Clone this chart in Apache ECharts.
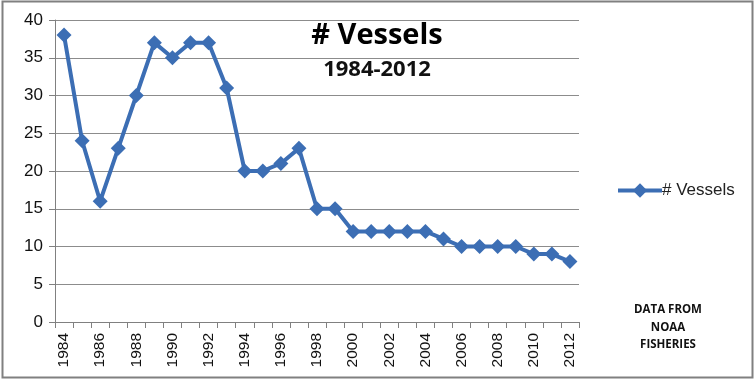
<!DOCTYPE html>
<html><head><meta charset="utf-8">
<script src="https://cdn.jsdelivr.net/npm/echarts@6/dist/echarts.min.js"></script>
<style>html,body{margin:0;padding:0;background:#fff}#c{width:756px;height:380px}</style>
</head><body><div id="c"></div>
<script>
var years = ['1984','1985','1986','1987','1988','1989','1990','1991','1992','1993','1994','1995','1996','1997','1998','1999','2000','2001','2002','2003','2004','2005','2006','2007','2008','2009','2010','2011','2012'];
var vessels = [38,24,16,23,30,37,35,37,37,31,20,20,21,23,15,15,12,12,12,12,12,11,10,10,10,10,9,9,8];
var seriesName = '# Vessels';
var titleText = '# Vessels';
var subtitleText = '1984-2012';
var noteLines = ['DATA FROM', 'NOAA', 'FISHERIES'];

var chart = echarts.init(document.getElementById('c'), null, {renderer:'canvas'});
var blue = '#3C6EB4';
var font = '"Liberation Sans", Arial, sans-serif';
chart.setOption({
  animation: false,
  graphic: [
    {type:'rect', shape:{x:2.5,y:1.5,width:750,height:376}, style:{fill:'none', stroke:'#808080', lineWidth:2}, silent:true},
    {type:'text', x:377, y:36, style:{text:titleText, font:'bold 29px "Open Sans", sans-serif', fill:'#000', align:'center', verticalAlign:'middle'}},
    {type:'text', x:377, y:70, style:{text:subtitleText, font:'bold 22px "Open Sans", sans-serif', fill:'#111', align:'center', verticalAlign:'middle'}},
    {type:'text', x:668, y:301, style:{text:noteLines.join('\n'), font:'bold 11.5px "Open Sans", sans-serif', fill:'#111', align:'center', verticalAlign:'top', lineHeight:17.5}}
  ],
  legend: {
    show:true, orient:'vertical', left:611, top:177,
    itemWidth:44, itemHeight:18, itemGap:4,
    lineStyle:{width:4},
    textStyle:{fontSize:17, color:'#222', fontFamily:font, padding:[0,0,0,-5]},
    data:[seriesName]
  },
  grid: {left:55, right:177, top:20, bottom:58, containLabel:false},
  xAxis: {
    type:'category', data:years, boundaryGap:true,
    axisLine:{lineStyle:{color:'#808080', width:1}},
    axisTick:{show:true, alignWithLabel:false, interval:0, length:6, lineStyle:{color:'#808080'}},
    axisLabel:{rotate:90, interval:1, fontSize:15.5, color:'#111', fontFamily:font, margin:11},
    splitLine:{show:false}
  },
  yAxis: {
    type:'value', min:0, max:40, interval:5,
    axisLine:{show:true, lineStyle:{color:'#808080'}},
    axisTick:{show:true, length:6, lineStyle:{color:'#808080'}},
    axisLabel:{fontSize:17, color:'#111', fontFamily:font, margin:12},
    splitLine:{show:true, lineStyle:{color:'#8c8c8c', width:1}}
  },
  series: [{
    name:seriesName, type:'line', data:vessels,
    symbol:'diamond', symbolSize:15, showAllSymbol:true,
    lineStyle:{color:blue, width:4},
    itemStyle:{color:blue},
    emphasis:{disabled:true}
  }]
});
</script></body></html>
